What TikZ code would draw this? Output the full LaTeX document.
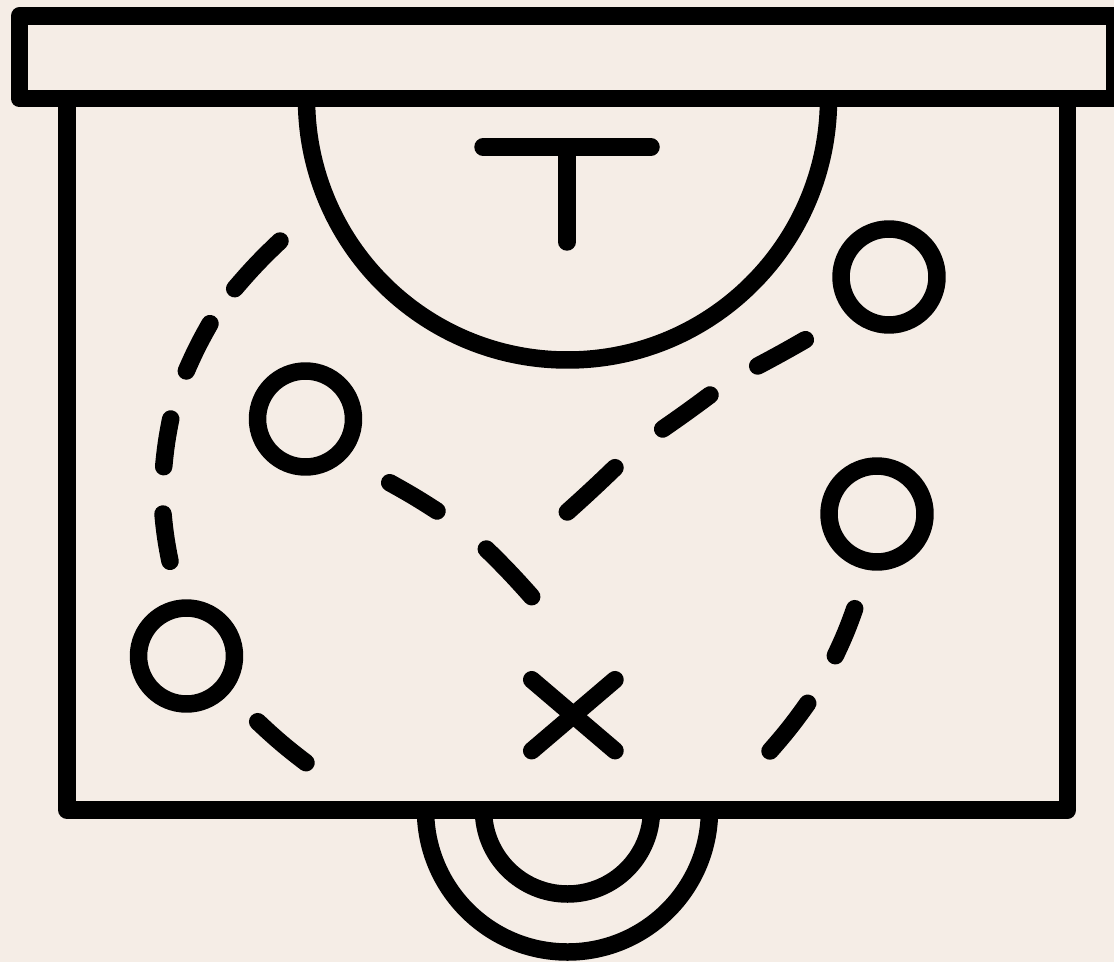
\documentclass[tikz,border=0pt]{standalone}
\usepackage{tikz}
\definecolor{boardcream}{RGB}{245,237,230}
\begin{document}
\begin{tikzpicture}[x=0.02cm,y=-0.02cm,
 chalk/.style={line width=0.35cm,line join=round,line cap=round},
 tokenring/.style={chalk,draw,circle,minimum size=1.92cm,inner sep=0pt}]
 \useasboundingbox (0,0) rectangle (1114,962);
 \fill[boardcream] (0,0) rectangle (1114,962);
 \clip (0,0) rectangle (1114,962);
 % board and top bar
 \draw[chalk] (67,99) -- (67,810) -- (1067.5,810) -- (1067.5,99);
 \draw[chalk] (19.5,16) rectangle (1114.5,98.5);
 % key arc and tee
 \draw[chalk] (306.5,99) arc[start angle=180,end angle=0,radius=261];
 \draw[chalk] (483,147) -- (651,147);
 \draw[chalk] (567,147) -- (567,242);
 % hoop under the board
 \draw[chalk] (425.5,810) arc[start angle=180,end angle=0,radius=142];
 \draw[chalk] (483.5,810) arc[start angle=180,end angle=0,radius=84];
 % players
 \node[tokenring] (playera) at (889,277) {};
 \node[tokenring] (playerb) at (305.5,419) {};
 \node[tokenring] (playerc) at (877,514) {};
 \node[tokenring] (playerd) at (186.5,656) {};
 % cross
 \draw[chalk] (531.7,679.7) -- (615,750.7);
 \draw[chalk] (615,679.7) -- (531.7,750.7);
 % dashed runs
 \draw[chalk] (280,241) to[bend right=3] (234.7,288.7);
 \draw[chalk] (210,323.7) to[bend right=3] (186.3,371);
 \draw[chalk] (170.7,419) to[bend right=3] (163.7,466.7);
 \draw[chalk] (163,514) to[bend right=3] (170,561.3);
 \draw[chalk] (257.7,721.7) to[bend right=3] (306,762.7);
 \draw[chalk] (389.7,482.7) to[bend left=2] (437,511);
 \draw[chalk] (486.3,549) to[bend left=2] (531.7,596.7);
 \draw[chalk] (567.3,512) to[bend right=1] (615,467.7);
 \draw[chalk] (662.7,429) to[bend right=1] (710,395);
 \draw[chalk] (757.7,366) to[bend right=1] (805.3,339.7);
 \draw[chalk] (854.7,608.7) to[bend left=3] (835.3,655.7);
 \draw[chalk] (807.7,703.3) to[bend left=3] (770,751);
\end{tikzpicture}
\end{document}
